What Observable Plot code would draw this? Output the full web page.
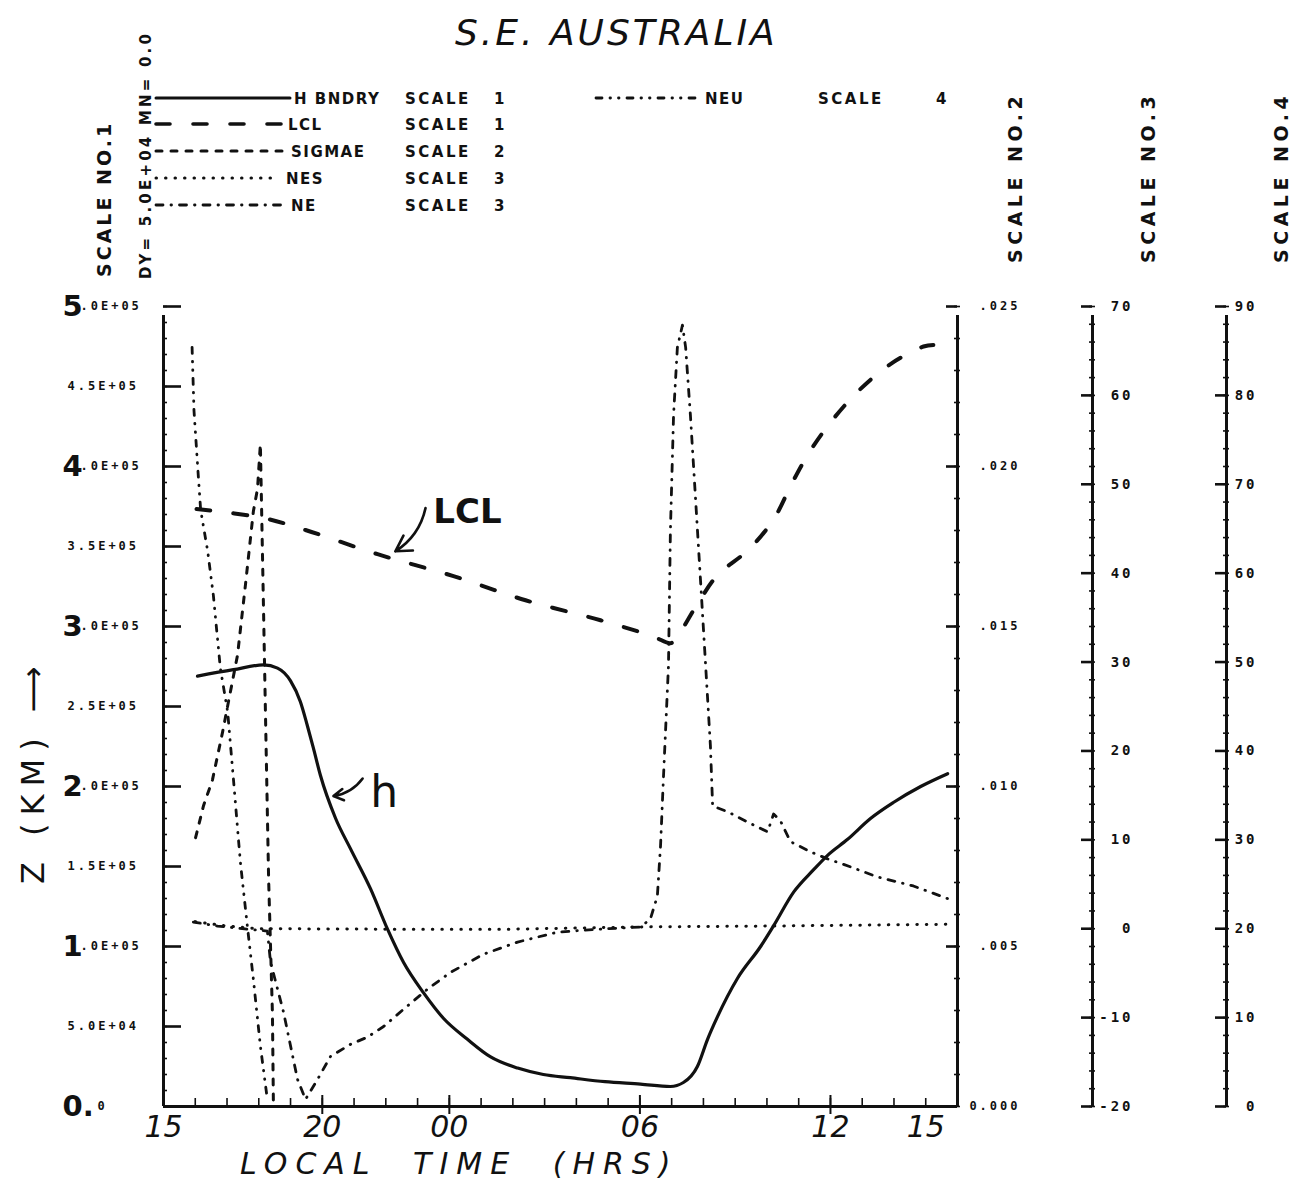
<!DOCTYPE html>
<html>
<head>
<meta charset="utf-8">
<title>S.E. Australia</title>
<script src="https://cdn.jsdelivr.net/npm/d3@7"></script>
<script src="https://cdn.jsdelivr.net/npm/@observablehq/plot@0.6"></script>
<style>
  html, body { margin: 0; padding: 0; background: #fff; }
  #page { position: relative; width: 1295px; height: 1182px; overflow: hidden; background: #fff; color: #111; }
  .layer { position: absolute; top: 0; }
  .layer svg { display: block; max-width: none !important; background: transparent; }
</style>
</head>
<body>
<div id="page">
  <div id="main" class="layer" style="left:0"></div>
  <div id="s3" class="layer" style="left:1048px"></div>
  <div id="s4" class="layer" style="left:1182px"></div>
</div>
<script>
// ---------- time axis: hours from 00:00 of day 1 (15 = 15:00, 40 = 16:00 next day)
const timeDomain = [15, 40];
const xTickHours = [15, 20, 24, 30, 36, 39];
const xTickLabels = ["15", "20", "00", "06", "12", "15"];
const xMajorHours = [20, 24, 30, 36];

// ---------- vertical scales
const scale1Ticks = [0, 5e4, 1e5, 1.5e5, 2e5, 2.5e5, 3e5, 3.5e5, 4e5, 4.5e5, 5e5];
const scale1Labels = ["0.0", "5.0E+04", "1.0E+05", "1.5E+05", "2.0E+05", "2.5E+05", "3.0E+05", "3.5E+05", "4.0E+05", "4.5E+05", "5.0E+05"];
const scale1HandDigits = ["0.", "", "1", "", "2", "", "3", "", "4", "", "5"];
const scale2Ticks = [0, 0.005, 0.010, 0.015, 0.020, 0.025];
const scale2Labels = ["0.000", ".005", ".010", ".015", ".020", ".025"];
const scale3Ticks = [-20, -10, 0, 10, 20, 30, 40, 50, 60, 70];
const scale4Ticks = [0, 10, 20, 30, 40, 50, 60, 70, 80, 90];

// ---------- series
// H BNDRY, SCALE 1, values in units of 1E+05
const hbTime  = [16.07, 17.2, 18.15, 18.59, 19.0, 19.31, 19.53, 19.72, 19.94, 20.42, 20.89, 21.52, 22.05, 22.56, 23.19, 23.82, 24.57, 25.3, 26.15, 26.96, 27.81, 28.9, 30.02, 30.96, 31.37, 31.81, 32.13, 32.44, 33.07, 33.8, 34.21, 34.84, 35.47, 35.91, 36.54, 37.26, 37.98, 38.84, 39.69];
const hbValue = [2.69, 2.73, 2.76, 2.74, 2.66, 2.53, 2.38, 2.24, 2.07, 1.80, 1.61, 1.36, 1.11, 0.90, 0.71, 0.55, 0.42, 0.31, 0.24, 0.20, 0.18, 0.155, 0.14, 0.125, 0.15, 0.25, 0.42, 0.56, 0.80, 1.00, 1.13, 1.34, 1.48, 1.57, 1.67, 1.80, 1.90, 2.00, 2.08];
// LCL, SCALE 1, units of 1E+05
const lclTime  = [16.04, 18.15, 19.47, 21.74, 24.13, 26.40, 28.76, 30.40, 30.96, 31.12, 31.81, 32.44, 33.42, 34.21, 34.80, 35.37, 36.10, 36.92, 37.89, 38.93, 39.24];
const lclValue = [3.734, 3.678, 3.603, 3.452, 3.315, 3.164, 3.039, 2.939, 2.895, 2.92, 3.14, 3.32, 3.48, 3.67, 3.90, 4.10, 4.30, 4.48, 4.64, 4.75, 4.76];
// SIGMAE, SCALE 2
const sigTime  = [16.01, 16.26, 16.54, 16.86, 17.33, 17.58, 17.83, 17.96, 18.05, 18.15, 18.21, 18.31, 18.43, 18.46];
const sigValue = [0.0084, 0.0094, 0.0102, 0.0117, 0.0141, 0.0163, 0.0186, 0.0193, 0.0207, 0.0155, 0.0123, 0.0071, 0.0029, 0.0001];
// NES, SCALE 3
const nesTime  = [16.0, 17.0, 18.0, 22.0, 26.0, 30.0, 34.0, 39.7];
const nesValue = [0.8, 0.3, 0.0, -0.05, -0.05, 0.2, 0.3, 0.5];
// NE, SCALE 3
const neTime  = [15.94, 16.70, 17.64, 18.27, 18.37, 18.78, 19.22, 19.47, 19.85, 20.26, 20.89, 21.42, 21.93, 22.56, 23.31, 24.04, 25.08, 26.15, 27.41, 28.76, 30.02, 30.33, 30.55, 30.65, 30.74, 30.90, 30.96, 31.06, 31.18, 31.34, 31.44, 31.59, 31.75, 31.91, 32.07, 32.22, 32.29, 32.76, 33.39, 34.02, 34.21, 34.43, 34.74, 35.37, 35.91, 36.63, 37.48, 38.61, 39.72];
const neValue = [0.75, 0.30, -0.04, -0.26, -3.76, -9.40, -16.95, -19.2, -16.95, -14.36, -13.0, -12.2, -11.0, -9.06, -6.8, -4.9, -2.86, -1.50, -0.38, -0.04, 0.19, 1.09, 3.68, 9.32, 16.88, 29.6, 44.7, 57.8, 65.4, 67.9, 65.4, 57.8, 48.5, 39.1, 29.6, 20.6, 13.8, 13.16, 12.0, 10.9, 12.9, 12.1, 9.8, 8.65, 7.86, 6.96, 5.83, 4.81, 3.35];
// NEU, SCALE 4
const neuTime  = [15.9, 15.96, 16.10, 16.17, 16.39, 16.57, 16.79, 17.02, 17.20, 17.42, 17.64, 17.83, 18.05, 18.27];
const neuValue = [85.4, 78.3, 70.7, 67.1, 62.5, 57.5, 49.3, 44.4, 36.9, 27.5, 20.3, 14.3, 6.8, 0.8];

// legend
const legendNames  = ["H BNDRY", "LCL", "SIGMAE", "NES", "NE"];
const legendScales = ["1", "1", "2", "3", "3"];
const legendExtraName = "NEU";
const legendExtraScale = "4";

// handwritten annotations (time, scale-1 value)
const annoText = [{label: "LCL", t: 24.57, v: 3.715e5}, {label: "h", t: 21.95, v: 1.96e5}];
const annoArrows = [
  {t1: 23.25, v1: 3.74e5, t2: 22.30, v2: 3.47e5},
  {t1: 21.27, v1: 2.05e5, t2: 20.35, v2: 1.94e5}
];

// ---------- build
const HAND = "DejaVu Sans, sans-serif";
const PRINT = "DejaVu Sans Mono, monospace";
const BLOCK = "DejaVu Sans, sans-serif";

const toY = {
  1: v => v,
  2: v => v / 0.025 * 5e5,
  3: v => (v + 20) / 90 * 5e5,
  4: v => v / 90 * 5e5
};
const rows = (times, values, s, mult = 1) => times.map((t, i) => ({t, y: toY[s](values[i] * mult)}));

const W = 1010, H = 1182, ML = 163, MR = 53, MT = 306, MB = 76;
const HR = 25 / (W - ML - MR);     // hours per pixel
const VP = 5e5 / (H - MT - MB);    // scale-1 units per pixel
const INK = "#111";

const dash = {
  lcl: "14,23",
  sig: "6,9",
  nes: "0.5,9",
  ne: "7,8,0.5,8",
  neu: "6,8,0.5,8,0.5,8"
};

const handIdx = scale1Ticks.map((d, i) => i).filter(i => scale1HandDigits[i] && scale1Ticks[i] !== 0);
const plainIdx = scale1Ticks.map((d, i) => i).filter(i => !scale1HandDigits[i]);
const s2map = new Map(scale2Ticks.map((v, i) => [toY[2](v), scale2Labels[i]]));
const labelOf = d => scale1Labels[scale1Ticks.indexOf(d)];
const printed = {fontFamily: PRINT, fontSize: 12, fontWeight: "bold", label: null, tickSize: 0, textAnchor: "start"};

const main = Plot.plot({
  width: W, height: H, marginTop: MT, marginBottom: MB, marginLeft: ML, marginRight: MR,
  x: {domain: timeDomain, axis: null},
  y: {domain: [0, 5e5], axis: null},
  style: {background: "transparent", color: INK, overflow: "visible"},
  marks: [
    // frame / axis lines
    Plot.ruleX([15], {y1: 0, y2: 5e5 - 9 * VP, stroke: INK, strokeWidth: 3}),
    Plot.ruleX([40], {y1: 0, y2: 5e5 - 9 * VP, stroke: INK, strokeWidth: 3}),
    Plot.ruleY([0], {x1: 15, x2: 40, stroke: INK, strokeWidth: 3}),
    // scale 1 ticks
    Plot.ruleY(scale1Ticks, {x1: 15, x2: 15 + 18 * HR, stroke: INK, strokeWidth: 2.6}),
    Plot.ruleY(d3.range(0, 5e5 + 1, 1e4), {x1: 15, x2: 15 + 4 * HR, stroke: INK, strokeWidth: 1.6}),
    // scale 2 ticks
    Plot.ruleY(scale2Ticks.map(toY[2]), {x1: 40 - 11 * HR, x2: 40, stroke: INK, strokeWidth: 2.6}),
    Plot.ruleY(d3.range(0, 26).map(i => toY[2](i * 0.001)), {x1: 40 - 3 * HR, x2: 40 + 3 * HR, stroke: INK, strokeWidth: 1.6}),
    // time ticks
    Plot.ruleX(d3.range(16, 40), {y1: 0, y2: 8 * VP, stroke: INK, strokeWidth: 1.6}),
    Plot.ruleX(xMajorHours, {y1: -8 * VP, y2: 11 * VP, stroke: INK, strokeWidth: 2}),
    // scale 1 labels (printed)
    Plot.axisY({anchor: "left", ticks: plainIdx.map(i => scale1Ticks[i]), tickFormat: labelOf, tickPadding: 96, ...printed}),
    Plot.axisY({anchor: "left", ticks: handIdx.map(i => scale1Ticks[i]), tickFormat: d => labelOf(d).slice(1), tickPadding: 83, ...printed}),
    Plot.axisY({anchor: "left", ticks: [0], tickFormat: d => labelOf(d).slice(2), tickPadding: 66, ...printed}),
    // handwritten digits over scale 1
    Plot.text(scale1Ticks.map((v, i) => ({v, d: scale1HandDigits[i]})).filter(r => r.d),
      {y: "v", text: "d", frameAnchor: "left", dx: -101, textAnchor: "start", fontFamily: HAND, fontWeight: "bold", fontSize: 29, fill: INK}),
    // scale 2 labels
    Plot.axisY({anchor: "right", ticks: scale2Ticks.map(toY[2]), tickFormat: d => s2map.get(d),
      tickSize: 0, tickPadding: 63, textAnchor: "end", fontFamily: PRINT, fontSize: 12, fontWeight: "bold", label: null}),
    // time labels (handwritten)
    Plot.axisX({anchor: "bottom", ticks: xTickHours, tickFormat: d => xTickLabels[xTickHours.indexOf(d)],
      tickSize: 0, tickPadding: 9, fontFamily: HAND, fontStyle: "oblique", fontSize: 30, label: null}),
    // data
    Plot.line(rows(neTime, neValue, 3), {x: "t", y: "y", stroke: INK, strokeWidth: 2.8, strokeDasharray: dash.ne, strokeLinecap: "round", strokeLinejoin: "round"}),
    Plot.line(rows(nesTime, nesValue, 3), {x: "t", y: "y", stroke: INK, strokeWidth: 3, strokeDasharray: dash.nes, strokeLinecap: "round"}),
    Plot.line(rows(neuTime, neuValue, 4), {x: "t", y: "y", stroke: INK, strokeWidth: 2.8, strokeDasharray: dash.neu, strokeLinecap: "round"}),
    Plot.line(rows(sigTime, sigValue, 2), {x: "t", y: "y", stroke: INK, strokeWidth: 3, strokeDasharray: dash.sig, strokeLinecap: "round"}),
    Plot.line(rows(lclTime, lclValue, 1, 1e5), {x: "t", y: "y", stroke: INK, strokeWidth: 4, strokeDasharray: dash.lcl, strokeLinecap: "round", curve: "catmull-rom"}),
    Plot.line(rows(hbTime, hbValue, 1, 1e5), {x: "t", y: "y", stroke: INK, strokeWidth: 3.2, curve: "monotone-x"}),
    // annotations
    Plot.arrow(annoArrows, {x1: "t1", y1: "v1", x2: "t2", y2: "v2", bend: true, stroke: INK, strokeWidth: 2.6, headLength: 12}),
    Plot.text(annoText.filter(d => d.label === "LCL"), {x: "t", y: "v", text: "label", fontFamily: HAND, fontWeight: "bold", fontSize: 34, fill: INK}),
    Plot.text(annoText.filter(d => d.label === "h"), {x: "t", y: "v", text: "label", fontFamily: HAND, fontSize: 44, fill: INK})
  ]
});
document.getElementById("main").append(main);

function sideScale(el, domain, ticks, minorStep, width, marginRight, labelPad) {
  const frame = 24;
  const span = domain[1] - domain[0];
  const gap = 9 / (H - MT - MB) * span;
  const chart = Plot.plot({
    width, height: H, marginTop: MT, marginBottom: MB, marginLeft: width - marginRight - frame, marginRight,
    x: {domain: [0, 1], axis: null},
    y: {domain, axis: null},
    style: {background: "transparent", color: INK, overflow: "visible"},
    marks: [
      Plot.ruleX([1], {y1: domain[0], y2: domain[1] - gap, stroke: INK, strokeWidth: 3}),
      Plot.ruleY(ticks, {x1: 1 - 11 / frame, x2: 1, stroke: INK, strokeWidth: 2.6}),
      Plot.ruleY(d3.range(domain[0], domain[1] + 0.001, minorStep), {x1: 1 - 3 / frame, x2: 1 + 3 / frame, stroke: INK, strokeWidth: 1.6}),
      Plot.axisY({anchor: "right", ticks, tickFormat: d => String(d), tickSize: 0, tickPadding: labelPad,
        textAnchor: "end", fontFamily: PRINT, fontSize: 14, fontWeight: "bold", label: null})
    ]
  });
  document.getElementById(el).append(chart);
}
sideScale("s3", [-20, 70], scale3Ticks, 2, 130, 86, 41);
sideScale("s4", [0, 90], scale4Ticks, 2, 113, 69, 31);

// printed (dot-matrix) text spacing
d3.selectAll("#page [font-family*='Mono']").style("letter-spacing", "3px");

// ---------- overlay: title, legend, scale captions, axis titles
const ov = d3.select("#page").append("svg")
  .attr("width", 1295).attr("height", 1182)
  .style("position", "absolute").style("left", 0).style("top", 0).style("pointer-events", "none");

function txt(x, y, s, o = {}) {
  const t = ov.append("text").attr("x", x).attr("y", y).text(s)
    .attr("font-family", o.family || BLOCK).attr("font-size", o.size || 15)
    .attr("font-weight", o.weight || "bold").attr("fill", INK)
    .style("letter-spacing", (o.ls ?? 1) + "px");
  if (o.style) t.attr("font-style", o.style);
  if (o.rotate) t.attr("transform", `rotate(-90 ${x} ${y})`);
  if (o.ws) t.style("word-spacing", o.ws + "px");
  return t;
}

txt(455, 45, "S.E. AUSTRALIA", {family: HAND, size: 36, weight: "normal", ls: 3, style: "oblique"});

const legendY = [98, 124, 151, 178, 205];
const legendX2 = [290, 285, 289, 275, 285];
const legendTX = [294, 288, 291, 286, 291];
const legendDash = [null, dash.lcl, dash.sig, dash.nes, dash.ne];
const legendW = [3, 3.6, 3, 3, 2.8];
legendNames.forEach((name, i) => {
  const ln = ov.append("line").attr("x1", 156).attr("x2", legendX2[i]).attr("y1", legendY[i]).attr("y2", legendY[i])
    .attr("stroke", INK).attr("stroke-width", legendW[i]).attr("stroke-linecap", "round");
  if (legendDash[i]) ln.attr("stroke-dasharray", legendDash[i]);
  txt(legendTX[i], legendY[i] + 6, name, {ls: 1.5});
  txt(405, legendY[i] + 6, "SCALE", {ls: 2.5});
  txt(494, legendY[i] + 6, legendScales[i], {ls: 0});
});
ov.append("line").attr("x1", 596).attr("x2", 702).attr("y1", 98).attr("y2", 98)
  .attr("stroke", INK).attr("stroke-width", 2.8).attr("stroke-linecap", "round").attr("stroke-dasharray", dash.neu);
txt(705, 104, legendExtraName, {ls: 1.5});
txt(818, 104, "SCALE", {ls: 2.5});
txt(936, 104, legendExtraScale, {ls: 0});

// vertical scale captions
txt(111, 277, "SCALE NO.1", {size: 19, ls: 3, rotate: true});
txt(151, 279, "DY= 5.0E+04  MN= 0.0", {size: 15, ls: 3.2, rotate: true});
txt(1022, 263, "SCALE NO.2", {size: 19, ls: 4.5, rotate: true});
txt(1155, 263, "SCALE NO.3", {size: 19, ls: 4.5, rotate: true});
txt(1288, 263, "SCALE NO.4", {size: 19, ls: 4.5, rotate: true});

// axis titles (handwritten)
txt(44, 884, "Z (KM) ⟶", {family: HAND, size: 32, weight: "normal", ls: 8, rotate: true});
txt(240, 1174, "LOCAL TIME (HRS)", {family: HAND, size: 30, weight: "normal", ls: 8, ws: 18, style: "oblique"});
</script>
</body>
</html>
